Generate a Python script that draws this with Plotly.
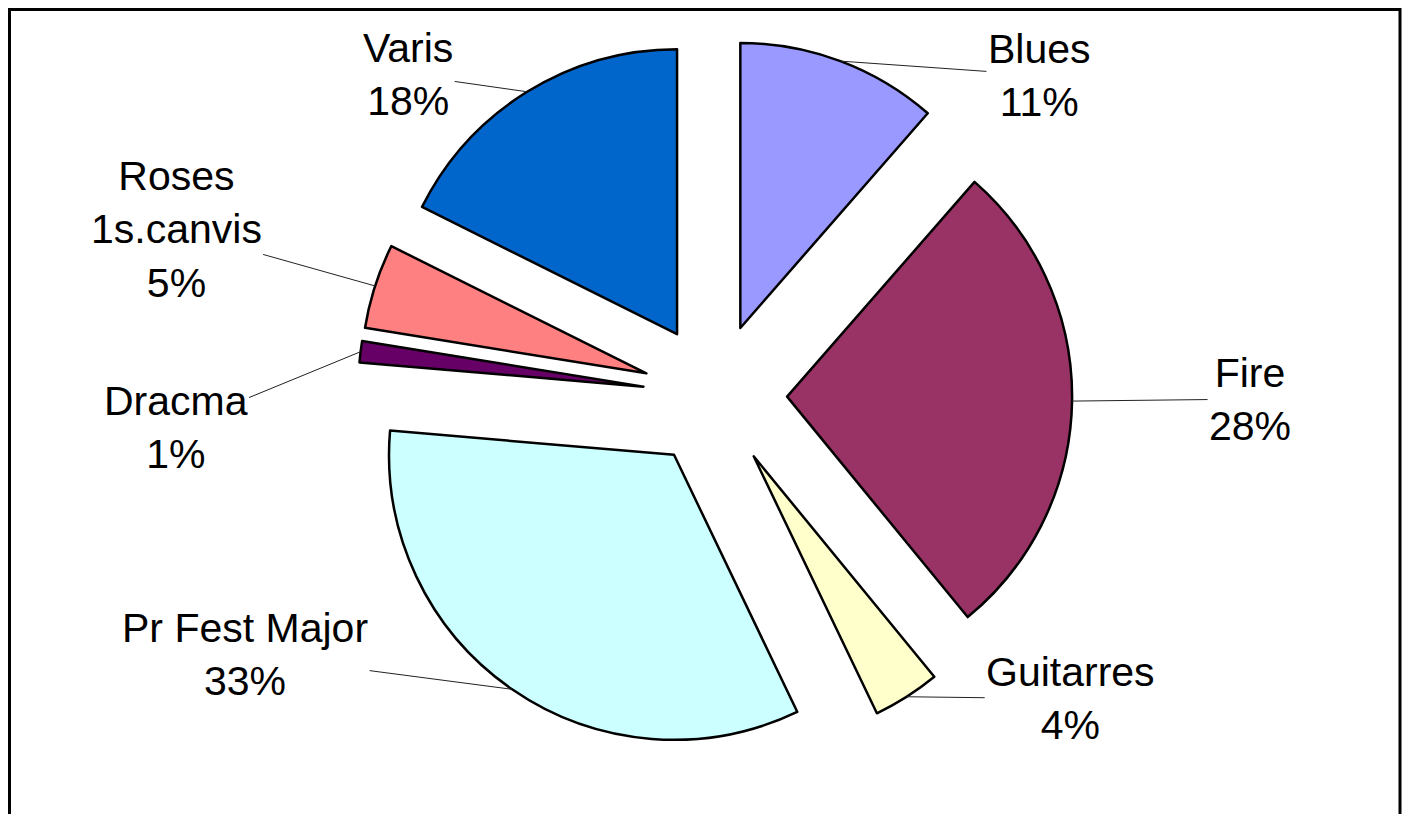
import math
import plotly.graph_objects as go

# ---- data ----
categories = ["Blues", "Fire", "Guitarres", "Pr Fest Major", "Dracma", "Roses 1s.canvis", "Varis"]
values = [11.4, 27.6, 3.8, 33.4, 1.2, 4.8, 17.6]
colors = ["#9999FF", "#993366", "#FFFFCC", "#CCFFFF", "#660066", "#FF8080", "#0066CC"]

# ---- layout constants ----
W, H = 1414, 814
PULL = 0.253
dom_x = [0.0, 1.0]
dom_y = [0.0853, 0.9627]
# label offsets (pixels) from the leader-line tip to the text centre
label_offsets = [(199, 14), (178, -2), (164, 2), (-267, -35), (-185, 76), (-199, -56), (-119, -17)]
FONT = "Liberation Sans, Arial, sans-serif"

fig = go.Figure()
fig.add_trace(go.Pie(
    labels=categories,
    values=values,
    sort=False,
    direction="clockwise",
    rotation=0,
    pull=[PULL] * len(values),
    marker=dict(colors=colors, line=dict(color="black", width=2.5)),
    textinfo="none",
    showlegend=False,
    domain=dict(x=dom_x, y=dom_y),
))

# pie geometry in pixels (same as plotly's own scaling)
box_w = W * (dom_x[1] - dom_x[0])
box_h = H * (dom_y[1] - dom_y[0])
r = min(box_w, box_h) / (2 + 2 * PULL)
cx = W * (dom_x[0] + dom_x[1]) / 2
cy = H * (1 - (dom_y[0] + dom_y[1]) / 2)
R = r * (1 + PULL)

total = sum(values)
cum = 0.0
annotations = []
for cat, v, (ax, ay) in zip(categories, values, label_offsets):
    mid = (cum + v / 2) / total * 2 * math.pi
    cum += v
    tx = cx + R * math.sin(mid)
    ty = cy - R * math.cos(mid)
    pct = round(v / total * 100)
    text = cat.replace(" 1s.", "<br>1s.") + f"<br>{pct}%"
    annotations.append(dict(
        x=tx / W, y=1 - ty / H, xref="paper", yref="paper",
        text=text, showarrow=True, arrowhead=0, arrowwidth=1, arrowcolor="#222222",
        ax=ax, ay=ay, font=dict(size=41, color="black", family=FONT),
        align="center",
    ))

fig.update_layout(
    width=W, height=H,
    margin=dict(l=0, r=0, t=0, b=0),
    paper_bgcolor="white",
    plot_bgcolor="white",
    font=dict(family=FONT, size=41, color="black"),
    annotations=annotations,
    shapes=[dict(type="rect", xref="paper", yref="paper",
                 x0=1.5 / W, x1=1392 / W, y0=-0.1, y1=1 - 1.5 / H,
                 line=dict(color="black", width=3), fillcolor="rgba(0,0,0,0)")],
)

fig.write_html("out.html")
